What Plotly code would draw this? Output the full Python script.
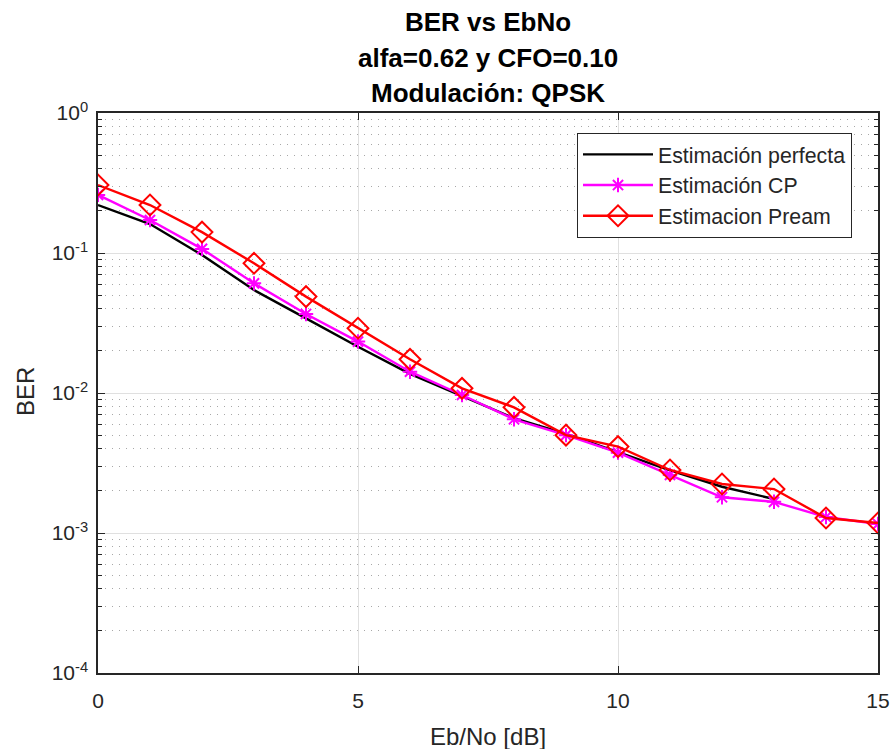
import plotly.graph_objects as go

ebno = list(range(16))
ber_perfecta = [0.22, 0.161, 0.0968, 0.0544, 0.0341, 0.0214, 0.0137, 0.0095, 0.0066, 0.0051,
                0.0038, 0.0028, 0.00214, 0.00175, None, None]
ber_cp = [0.26, 0.172, 0.107, 0.0607, 0.0367, 0.0233, 0.0142, 0.00968, 0.00649, 0.0050,
          0.00375, 0.0026, 0.0018, 0.00167, 0.0013, 0.00116]
ber_pream = [0.306, 0.220, 0.141, 0.0844, 0.0488, 0.029, 0.0174, 0.0108, 0.0079, 0.0050,
             0.00414, 0.00282, 0.00224, 0.00206, 0.00128, 0.00118]

y_tickvals = [1e-4, 1e-3, 1e-2, 1e-1, 1e0]
y_ticktext = ["10<sup>-4</sup>", "10<sup>-3</sup>", "10<sup>-2</sup>", "10<sup>-1</sup>", "10<sup>0</sup>"]
x_tickvals = [0, 5, 10, 15]
minor_vals = [k * 10.0 ** e for e in range(-4, 0) for k in range(2, 10)]

FONT = "Liberation Sans, Arial, sans-serif"
TXT = "#262626"

W, H = 890, 749
# plot area in page pixels
PL, PR, PT, PB = 98, 878, 113, 673
L, R, T, B = PL, W - PR, PT, H - PB
PW, PH = PR - PL, PB - PT


def px(xp):
    return (xp - PL) / PW


def py(yp):
    return 1 - (yp - PT) / PH


fig = go.Figure()
fig.add_trace(go.Scatter(x=ebno, y=ber_perfecta, mode="lines", name="Estimación perfecta",
                         line=dict(color="#000000", width=2.4), connectgaps=False))
fig.add_trace(go.Scatter(x=ebno, y=ber_cp, mode="lines+markers", name="Estimación CP",
                         line=dict(color="#FF00FF", width=2.4),
                         marker=dict(symbol="asterisk-open", size=12, color="#FF00FF",
                                     line=dict(color="#FF00FF", width=2))))
fig.add_trace(go.Scatter(x=ebno, y=ber_pream, mode="lines+markers", name="Estimacion Pream",
                         line=dict(color="#FF0000", width=2.4),
                         marker=dict(symbol="diamond-open", size=16, color="#FF0000",
                                     line=dict(color="#FF0000", width=2))))

fig.update_layout(
    width=W, height=H,
    margin=dict(l=L, r=R, t=T, b=B, autoexpand=False),
    paper_bgcolor="white", plot_bgcolor="white",
    font=dict(family=FONT, size=21, color=TXT),
    showlegend=True,
    legend=dict(x=px(577), y=py(133), xanchor="left", yanchor="top",
                bgcolor="white", bordercolor="#262626", borderwidth=1,
                font=dict(family=FONT, size=21.3, color=TXT),
                itemwidth=70, tracegroupgap=0),
    xaxis=dict(range=[0, 15], tickvals=x_tickvals, ticks="inside", ticklen=7,
               tickcolor=TXT, showline=True, linecolor=TXT, linewidth=1.5, mirror="ticks",
               showgrid=True, gridcolor="#e0e0e0", gridwidth=1, zeroline=False,
               automargin=False, ticklabelstandoff=8,
               tickfont=dict(size=21, color=TXT)),
    yaxis=dict(type="log", range=[-4, 0], tickvals=y_tickvals, ticktext=y_ticktext,
               ticks="inside", ticklen=7, tickcolor=TXT, showline=True, linecolor=TXT,
               linewidth=1.5, mirror="ticks", showgrid=True, gridcolor="#e0e0e0", gridwidth=1,
               zeroline=False, automargin=False, ticklabelstandoff=4,
               tickfont=dict(size=21, color=TXT),
               minor=dict(tickvals=minor_vals, ticks="inside", ticklen=4, tickcolor=TXT,
                          showgrid=True, gridcolor="#a8a8a8", griddash="1px,6px", gridwidth=1)),
)

# axis titles
fig.add_annotation(text="Eb/No [dB]", xref="paper", yref="paper",
                   x=0.5, y=py(736), xanchor="center", yanchor="middle",
                   showarrow=False, font=dict(family=FONT, size=24, color=TXT))
fig.add_annotation(text="BER", xref="paper", yref="paper",
                   x=px(25), y=py(392), xanchor="center", yanchor="middle",
                   textangle=-90, showarrow=False, font=dict(family=FONT, size=24, color=TXT))

titles = ["BER vs EbNo", "alfa=0.62 y CFO=0.10", "Modulación: QPSK"]
ys = [22, 58, 93]
for t, yy in zip(titles, ys):
    fig.add_annotation(text="<b>" + t + "</b>", xref="paper", yref="paper",
                       x=0.5, y=py(yy), xanchor="center", yanchor="middle",
                       showarrow=False, font=dict(family=FONT, size=26, color="#000000"))

fig.write_html("out.html", config={"displayModeBar": False},
               post_script="document.body.style.margin='0';document.body.style.overflow='hidden';")
